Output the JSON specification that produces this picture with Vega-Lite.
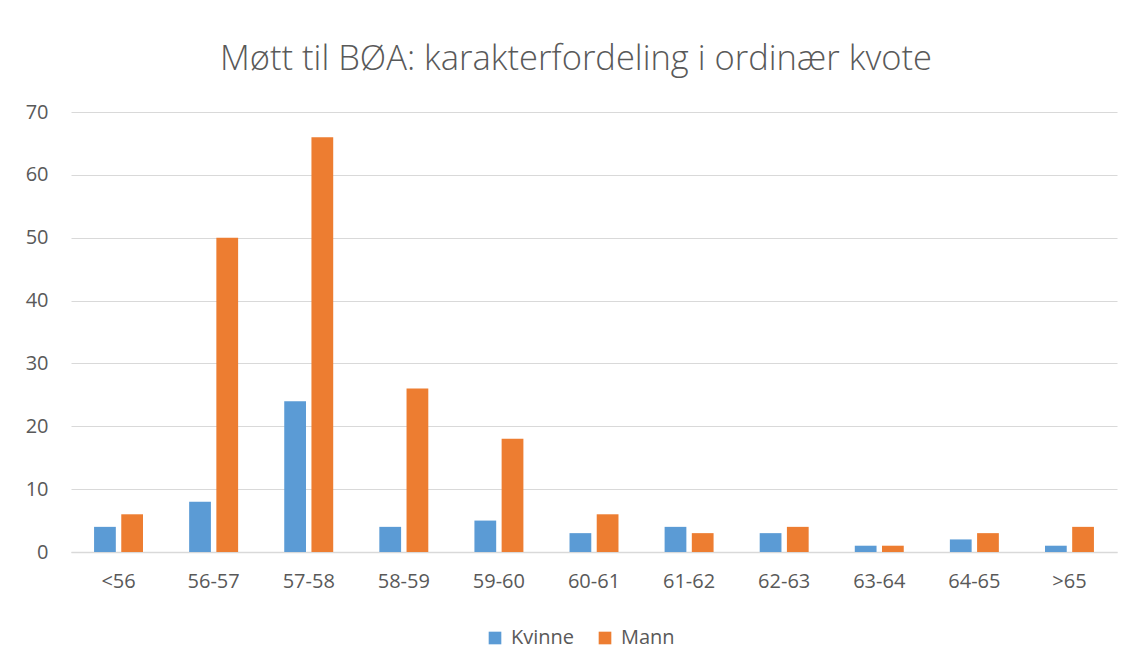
{
  "$schema": "https://vega.github.io/schema/vega-lite/v6.json",
  "autosize": "none",
  "width": 1046,
  "height": 440,
  "padding": {"left": 71, "top": 112, "right": 18, "bottom": 116},
  "background": "white",
  "title": {
    "text": "Møtt til BØA: karakterfordeling i ordinær kvote",
    "font": "Open Sans",
    "fontSize": 34.5,
    "fontWeight": 300,
    "color": "#595959",
    "anchor": "middle",
    "dx": -18,
    "offset": 25
  },
  "data": {
    "values": [
      {"kategori": "<56", "kjonn": "Kvinne", "antall": 4},
      {"kategori": "<56", "kjonn": "Mann", "antall": 6},
      {"kategori": "56-57", "kjonn": "Kvinne", "antall": 8},
      {"kategori": "56-57", "kjonn": "Mann", "antall": 50},
      {"kategori": "57-58", "kjonn": "Kvinne", "antall": 24},
      {"kategori": "57-58", "kjonn": "Mann", "antall": 66},
      {"kategori": "58-59", "kjonn": "Kvinne", "antall": 4},
      {"kategori": "58-59", "kjonn": "Mann", "antall": 26},
      {"kategori": "59-60", "kjonn": "Kvinne", "antall": 5},
      {"kategori": "59-60", "kjonn": "Mann", "antall": 18},
      {"kategori": "60-61", "kjonn": "Kvinne", "antall": 3},
      {"kategori": "60-61", "kjonn": "Mann", "antall": 6},
      {"kategori": "61-62", "kjonn": "Kvinne", "antall": 4},
      {"kategori": "61-62", "kjonn": "Mann", "antall": 3},
      {"kategori": "62-63", "kjonn": "Kvinne", "antall": 3},
      {"kategori": "62-63", "kjonn": "Mann", "antall": 4},
      {"kategori": "63-64", "kjonn": "Kvinne", "antall": 1},
      {"kategori": "63-64", "kjonn": "Mann", "antall": 1},
      {"kategori": "64-65", "kjonn": "Kvinne", "antall": 2},
      {"kategori": "64-65", "kjonn": "Mann", "antall": 3},
      {"kategori": ">65", "kjonn": "Kvinne", "antall": 1},
      {"kategori": ">65", "kjonn": "Mann", "antall": 4}
    ]
  },
  "mark": {"type": "bar"},
  "encoding": {
    "x": {
      "field": "kategori",
      "type": "nominal",
      "sort": null,
      "scale": {"paddingInner": 0.485, "paddingOuter": 0.2425},
      "axis": {
        "title": null,
        "labelAngle": 0,
        "labelFont": "Open Sans",
        "labelFontSize": 20,
        "labelColor": "#595959",
        "labelPadding": 19,
        "ticks": false,
        "domainColor": "#D9D9D9",
        "domainWidth": 1.5
      }
    },
    "xOffset": {
      "field": "kjonn",
      "type": "nominal",
      "scale": {"paddingInner": 0.2, "paddingOuter": 0}
    },
    "y": {
      "field": "antall",
      "type": "quantitative",
      "scale": {"domain": [0, 70]},
      "axis": {
        "title": null,
        "values": [0, 10, 20, 30, 40, 50, 60, 70],
        "labelFont": "Open Sans",
        "labelFontSize": 20,
        "labelColor": "#595959",
        "labelPadding": 23,
        "ticks": false,
        "domain": false,
        "gridColor": "#D9D9D9",
        "gridWidth": 1.2
      }
    },
    "color": {
      "field": "kjonn",
      "type": "nominal",
      "scale": {"domain": ["Kvinne", "Mann"], "range": ["#5B9BD5", "#ED7D31"]},
      "legend": {
        "title": null,
        "orient": "none",
        "direction": "horizontal",
        "legendX": 414,
        "legendY": 516,
        "symbolType": "square",
        "symbolSize": 160,
        "symbolStrokeWidth": 0,
        "labelFont": "Open Sans",
        "labelFontSize": 20,
        "labelColor": "#595959",
        "labelOffset": 6,
        "columnPadding": 20
      }
    }
  },
  "config": {
    "view": {"stroke": null}
  }
}
